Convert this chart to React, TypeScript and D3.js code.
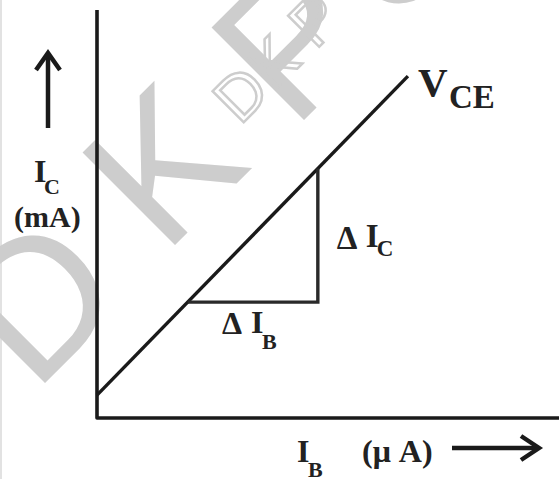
import React from "react";
import * as d3 from "d3";

// V_CE characteristic (I_C vs I_B), arbitrary units
const ibValues = [0, 6.73];
const icValues = [0.56, 8.38];
// slope triangle
const deltaIbRight = 4.78;
const deltaIcBase = 2.84;
// axis extents
const xDomain = [0, 10];
const yDomain = [0, 10];
// labels
const yLabel = "I";
const yLabelSub = "C";
const yUnit = "(mA)";
const xLabel = "I";
const xLabelSub = "B";
const xUnit = "(\u03BC A)";
const curveLabel = "V";
const curveLabelSub = "CE";
const dIcLabel = ["\u0394", "I", "C"];
const dIbLabel = ["\u0394", "I", "B"];
const watermarkBig = ["D", "K", "P", "U"];
const watermarkSmall = "DK P";

const W = 559;
const H = 479;

export default function App() {
  const x = d3.scaleLinear().domain(xDomain).range([97, 559]);
  const y = d3.scaleLinear().domain(yDomain).range([418, 10]);

  const pts: [number, number][] = ibValues.map((v, i) => [v, icValues[i]]);
  const line = d3
    .line<[number, number]>()
    .x((d) => x(d[0]))
    .y((d) => y(d[1]));

  const slope = (icValues[1] - icValues[0]) / (ibValues[1] - ibValues[0]);
  const icAt = (ib: number) => icValues[0] + slope * (ib - ibValues[0]);
  const ibAt = (ic: number) => ibValues[0] + (ic - icValues[0]) / slope;

  const tri: [number, number][] = [
    [ibAt(deltaIcBase), deltaIcBase],
    [deltaIbRight, deltaIcBase],
    [deltaIbRight, icAt(deltaIbRight)],
  ];

  const axisPath = `M${x(xDomain[0])},${y(yDomain[1])} V${y(0)} H${x(xDomain[1])}`;

  const serif = "'Liberation Serif', 'DejaVu Serif', serif";
  const ink = "#1a1a1a";
  const txt = "#222";
  const wm = "#cdcdcd";

  const endX = x(ibValues[1]);
  const endY = y(icValues[1]);
  const triX = x(deltaIbRight);
  const triY = y(deltaIcBase);

  // watermark letter origins along a -45deg baseline
  const bigOrigins = [
    [34, 394],
    [164, 256],
    [293, 131],
    [388, 32],
  ];

  return (
    <svg
      width={W}
      height={H}
      style={{ position: "absolute", left: 0, top: 0, display: "block", background: "#fff" }}
    >
      <line x1={1} y1={0} x2={1} y2={H} stroke="#e2e2e2" strokeWidth={2} />
      {/* watermark */}
      <g fill={wm} fontFamily="'Liberation Sans', Arial, sans-serif" fontSize={190}>
        {watermarkBig.map((ch, i) => (
          <text
            key={i}
            transform={`translate(${bigOrigins[i][0]},${bigOrigins[i][1]}) rotate(-45)`}
          >
            {ch}
          </text>
        ))}
      </g>
      <text
        transform="translate(240,126) rotate(-45)"
        fontFamily="'Liberation Sans', Arial, sans-serif"
        fontSize={64}
        fill="none"
        stroke={wm}
        strokeWidth={2.5}
      >
        {watermarkSmall}
      </text>

      {/* axes */}
      <path d={axisPath} fill="none" stroke={ink} strokeWidth={3.6} strokeLinejoin="round" />

      {/* characteristic line */}
      <path d={line(pts) || ""} fill="none" stroke={ink} strokeWidth={3.4} />

      {/* slope triangle */}
      <path d={line(tri) || ""} fill="none" stroke="#2a2a2a" strokeWidth={3.4} />

      <g fontFamily={serif} fontWeight="bold" fill={txt}>
        {/* V_CE label */}
        <text x={endX + 10} y={endY + 20} fontSize={41}>{curveLabel}</text>
        <text x={endX + 41} y={endY + 32} fontSize={33}>{curveLabelSub}</text>

        {/* delta Ic */}
        <text x={triX + 19} y={249} fontSize={33}>{dIcLabel[0]}</text>
        <text x={triX + 48} y={247} fontSize={33}>{dIcLabel[1]}</text>
        <text x={triX + 59} y={256} fontSize={23}>{dIcLabel[2]}</text>

        {/* delta Ib */}
        <text x={222} y={triY + 32} fontSize={32}>{dIbLabel[0]}</text>
        <text x={251} y={triY + 31} fontSize={32}>{dIbLabel[1]}</text>
        <text x={262} y={triY + 47} fontSize={22}>{dIbLabel[2]}</text>

        {/* y axis label */}
        <text x={34} y={182} fontSize={32}>{yLabel}</text>
        <text x={44} y={194} fontSize={22}>{yLabelSub}</text>
        <text x={14} y={227} fontSize={30}>{yUnit}</text>

        {/* x axis label */}
        <text x={297} y={462} fontSize={32}>{xLabel}</text>
        <text x={308} y={477} fontSize={22}>{xLabelSub}</text>
        <text x={362} y={462} fontSize={32}>{xUnit}</text>
      </g>

      {/* up arrow */}
      <path d="M48,128 V53" stroke={ink} strokeWidth={4.5} fill="none" />
      <path d="M36,70 L48,53 L60,70" stroke={ink} strokeWidth={4.5} fill="none" />

      {/* right arrow */}
      <path d="M452,448 H537" stroke={ink} strokeWidth={4.5} fill="none" />
      <path d="M521,436 L539,448 L521,460" stroke={ink} strokeWidth={4.5} fill="none" />
    </svg>
  );
}
